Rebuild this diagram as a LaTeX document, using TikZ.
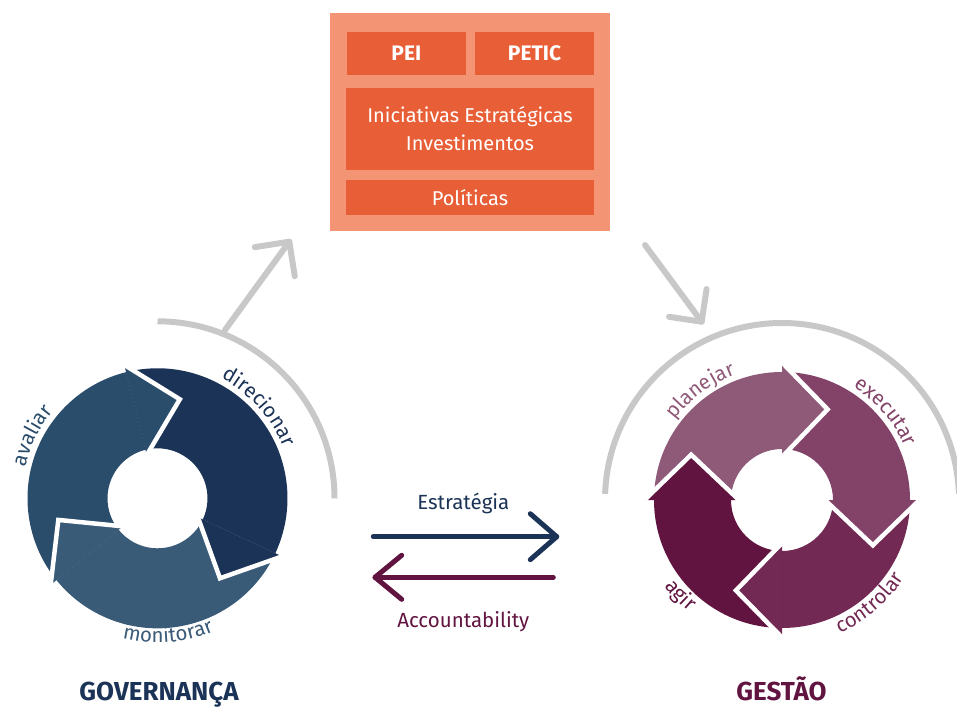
\documentclass[tikz,border=0pt]{standalone}
\usepackage{fontspec}
\setmainfont{Fira Sans}
\usetikzlibrary{decorations.text}
\definecolor{avC}{HTML}{2B4D6C}
\definecolor{diC}{HTML}{1B3357}
\definecolor{moC}{HTML}{3A5B78}
\definecolor{plC}{HTML}{8F5978}
\definecolor{exC}{HTML}{834368}
\definecolor{coC}{HTML}{722953}
\definecolor{agC}{HTML}{621440}
\definecolor{boxOut}{HTML}{F39474}
\definecolor{boxIn}{HTML}{E85E37}
\definecolor{grayC}{HTML}{C8C8C8}
\newcommand\labfont{\fontsize{20.5}{22}\selectfont}
\newcommand\ringbody[6]{%
  \begin{scope}[shift={(#1)}]
    \fill[#6] (#4:#2) arc[start angle=#4, end angle=#5, radius=#2] -- (#5:#3) arc[start angle=#5, end angle=#4, radius=#3] -- cycle;
  \end{scope}}
\newcommand\ringhead[7]{%
  \begin{scope}[shift={(#1)}]
    \fill[#7] (#5:#2) -- (#6:#4) -- (#5:#3) -- cycle;
    \draw[white, line width=4.5pt, line join=miter] (#5:#2) -- (#6:#4) -- (#5:#3);
  \end{scope}}
\newcommand\ringlabel[6]{%
  \path[decorate, decoration={text along path, text align=center, text color=#5, text={|\labfont|#6}}] (#1) ++(#3:#2) arc[start angle=#3, end angle=#4, radius=#2];}
\tikzset{
  grayline/.style={grayC, line width=6pt, line cap=round, line join=round},
  midarrow/.style={line width=5pt, line cap=round, line join=round},
  inbox/.style={fill=boxIn, text=white, inner sep=0pt, font=\fontsize{20}{28.5}\selectfont, align=center},
}
\begin{document}
\begin{tikzpicture}[x=1pt, y=1pt]
\useasboundingbox (0,0) rectangle (957,707);
\coordinate (L) at (157.5,208.7);
\coordinate (R) at (782,207);

% top box
\node[fill=boxOut, minimum width=280pt, minimum height=217.4pt, inner sep=0pt] (outer) at (470,585) {};
\node[inbox, minimum width=119.3pt, minimum height=43.3pt, font=\fontsize{21}{22}\selectfont\bfseries] (pei) at (406.35,653.65) {PEI};
\node[inbox, minimum width=119pt, minimum height=43.3pt, font=\fontsize{21}{22}\selectfont\bfseries] (petic) at (534.5,653.65) {PETIC};
\node[inbox, minimum width=248pt, minimum height=82.3pt] (inic) at (470,578.15) {Iniciativas Estratégicas\\Investimentos};
\node[inbox, minimum width=248pt, minimum height=35pt] (pol) at (470,509.5) {Políticas};

% gray arcs and arrows
\draw[grayline, line cap=butt] (L) ++(90:177) arc[start angle=90, end angle=0, radius=177];
\draw[grayline, line cap=butt] (R) ++(178:177) arc[start angle=178, end angle=2, radius=177];
\coordinate (ga1) at (225,377);
\coordinate (ga2) at (289.3,465.3);
\draw[grayline] (ga1) -- (ga2);
\draw[grayline] (ga2) ++(189:35) -- (ga2) -- ++(279:35);
\coordinate (gb1) at (645,462);
\coordinate (gb2) at (701.7,385.3);
\draw[grayline] (gb1) -- (gb2);
\draw[grayline] (gb2) ++(171.5:33) -- (gb2) -- ++(81.5:33);

% left cycle
\ringbody{L}{130}{50}{219}{104}{avC}
\ringbody{L}{130}{50}{104}{-25}{diC}
\ringbody{L}{130}{50}{-25}{-141}{moC}
\ringhead{L}{137.5}{44.5}{101.5}{104}{77.3}{avC}
\ringhead{L}{137.5}{44.5}{101.5}{-25}{-52}{diC}
\ringhead{L}{137.5}{44.5}{101.5}{219}{192.3}{moC}
\ringlabel{L}{136}{183.4}{123.4}{avC}{avaliar}
\ringlabel{L}{136}{77}{7}{diC}{direcionar}
\ringlabel{L}{144.5}{-120.5}{-50.5}{moC}{monitorar}

% right cycle
\ringbody{R}{128}{51}{180}{90}{plC}
\ringbody{R}{128}{51}{90}{0}{exC}
\ringbody{R}{128}{51}{0}{-90}{coC}
\ringbody{R}{128}{51}{-90}{-180}{agC}
\ringhead{R}{137.5}{43}{101.5}{90}{63.3}{plC}
\ringhead{R}{137.5}{43}{101.5}{0}{-26.5}{exC}
\ringhead{R}{137.5}{43}{101.5}{-90}{-117}{coC}
\ringhead{R}{137.5}{43}{101.5}{180}{153.5}{agC}
\ringlabel{R}{134}{161.8}{91.8}{plC}{planejar}
\ringlabel{R}{134}{75.5}{5.5}{exC}{executar}
\ringlabel{R}{145}{-84.6}{-14.6}{coC}{controlar}
\ringlabel{R}{145.5}{-166.7}{-106.7}{agC}{agir}

% middle arrows
\coordinate (ea1) at (373.3,170.3);
\coordinate (ea2) at (556.7,170.3);
\draw[midarrow, diC] (ea1) -- (ea2);
\draw[midarrow, diC] (ea2) ++(139:35) -- (ea2) -- ++(-139:35);
\coordinate (aa1) at (553.3,129.7);
\coordinate (aa2) at (375,129.7);
\draw[midarrow, agC] (aa1) -- (aa2);
\draw[midarrow, agC] (aa2) ++(39.5:34.6) -- (aa2) -- ++(-39.5:34.6);
\node[text=diC, font=\fontsize{20.5}{22}\selectfont] (estr) at (463.3,203.7) {Estratégia};
\node[text=agC, font=\fontsize{20.5}{22}\selectfont] (acc) at (463.3,85.3) {Accountability};

% bottom titles
\node[anchor=base, text=diC, font=\fontsize{26}{28}\selectfont\bfseries] (gov) at (159,7) {GOVERNANÇA};
\node[anchor=base, text=agC, font=\fontsize{26}{28}\selectfont\bfseries] (ges) at (781.5,7) {GESTÃO};
\end{tikzpicture}
\end{document}
